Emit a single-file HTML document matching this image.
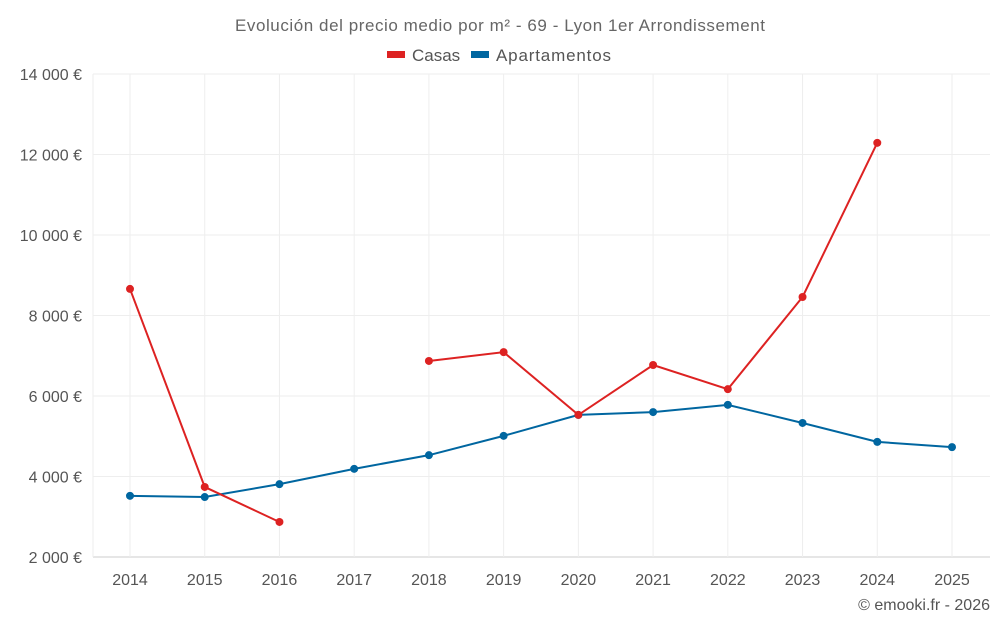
<!DOCTYPE html>
<html><head><meta charset="utf-8"><style>
body{margin:0;background:#fff;font-family:"Liberation Sans",sans-serif;}
svg text{font-family:"Liberation Sans",sans-serif;}
</style></head><body>
<svg id="chart" width="1000" height="625" xmlns="http://www.w3.org/2000/svg">
<text x="500" y="31" text-anchor="middle" font-size="17" textLength="530" fill="#666">Evolución del precio medio por m² - 69 - Lyon 1er Arrondissement</text>
<g><rect x="387" y="51" width="18" height="7" fill="#dd2222"/><text x="412" y="61" font-size="17" fill="#555">Casas</text></g>
<g><rect x="471" y="51" width="18" height="7" fill="#0066a0"/><text x="496" y="61" font-size="17" textLength="115" fill="#555">Apartamentos</text></g>
<g id="grid"></g><g id="axes"></g><g id="series"></g>
<text x="990" y="610" text-anchor="end" font-size="16" fill="#555">© emooki.fr - 2026</text>
</svg>
<script>
const years=[2014,2015,2016,2017,2018,2019,2020,2021,2022,2023,2024,2025];
const casas=[8660,3740,2870,null,6870,7090,5530,6770,6170,8460,12290,null];
const apartamentos=[3520,3490,3810,4190,4530,5010,5530,5600,5780,5330,4860,4730];
const yTicks=[2000,4000,6000,8000,10000,12000,14000];
const yTickLabels=["2 000 €","4 000 €","6 000 €","8 000 €","10 000 €","12 000 €","14 000 €"];
const NS="http://www.w3.org/2000/svg";
const L=93,R=990,T=74,B=557;
const x=i=>130+i*(952-130)/(years.length-1);
const y=v=>B-(v-2000)/12000*(B-T);
function mk(tag,attrs,parent){const e=document.createElementNS(NS,tag);for(const k in attrs)e.setAttribute(k,attrs[k]);parent.appendChild(e);return e;}
const grid=document.getElementById('grid'),axes=document.getElementById('axes'),ser=document.getElementById('series');
yTicks.forEach((t,i)=>{
 const ln=mk('line',{x1:L,x2:R,y1:y(t),y2:y(t),stroke:i==0?'#ccc':'#eee'},grid);
 
 
 const tx=mk('text',{x:82,y:y(t)+6,'text-anchor':'end','font-size':16,fill:'#555'},axes);
 tx.textContent=yTickLabels[i];
 
 
});
mk('line',{x1:L,x2:L,y1:T,y2:B,stroke:'#eee'},grid);
years.forEach((yr,i)=>{
 const ln=mk('line',{x1:x(i),x2:x(i),y1:T,y2:B,stroke:'#eee'},grid);
 
 
 const tx=mk('text',{x:x(i),y:585,'text-anchor':'middle','font-size':16,fill:'#555'},axes);
 tx.textContent=yr;
 
 
});
function draw(vals,color,name){
 let d='',pen=false;
 vals.forEach((v,i)=>{if(v==null){pen=false;return;}d+=(pen?'L':'M')+x(i)+','+y(v);pen=true;});
 const p=mk('path',{d:d,fill:'none',stroke:color,'stroke-width':2},ser);
 
 
 vals.forEach((v,i)=>{if(v==null)return;
  const c=mk('circle',{cx:x(i),cy:y(v),r:4,fill:color},ser);
  
  
 });
}
draw(apartamentos,'#0066a0','apartamentos');
draw(casas,'#dd2222','casas');
</script>
</body></html>
